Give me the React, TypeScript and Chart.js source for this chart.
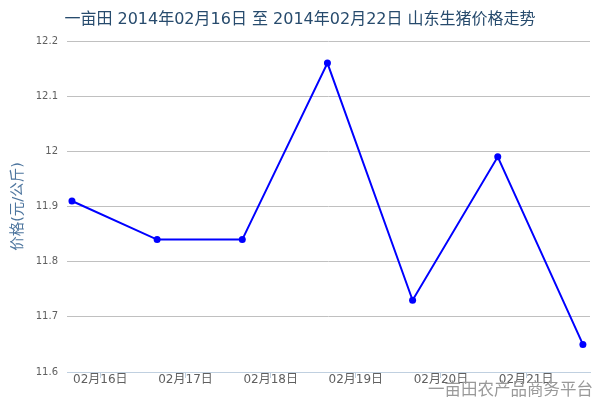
import { useEffect, useRef } from "react";
import { Chart, registerables } from "chart.js";

Chart.register(...registerables);

const categories = ["02月16日", "02月17日", "02月18日", "02月19日", "02月20日", "02月21日", "02月22日"];
const prices = [11.91, 11.84, 11.84, 12.16, 11.73, 11.99, 11.65];
const yTickLabels = ["11.6", "11.7", "11.8", "11.9", "12", "12.1", "12.2"];
const titleText = "一亩田 2014年02月16日 至 2014年02月22日 山东生猪价格走势";
const yTitle = "价格(元/公斤)";
const watermark = "一亩田农产品商务平台";

const HOURS_PER_DAY = 24;
const TZ_OFFSET_H = 8;
const FONT = "'DejaVu Sans', 'Noto Sans CJK SC', sans-serif";

export default function App() {
  const ref = useRef<HTMLCanvasElement | null>(null);

  useEffect(() => {
    document.body.style.margin = "0";
    const canvas = ref.current;
    if (!canvas) return;

    const watermarkPlugin = {
      id: "watermark",
      afterDraw(chart: any) {
        const { ctx } = chart;
        ctx.save();
        ctx.font = `16.5px ${FONT}`;
        ctx.fillStyle = "#999999";
        ctx.textAlign = "right";
        ctx.textBaseline = "alphabetic";
        ctx.fillText(watermark, 593, 395);
        ctx.restore();
      },
    };

    const chart = new Chart(canvas, {
      type: "line",
      data: {
        datasets: [
          {
            label: "价格",
            data: prices.map((v, i) => ({ x: i * HOURS_PER_DAY, y: v })),
            borderColor: "#0000FF",
            backgroundColor: "#0000FF",
            borderWidth: 2,
            pointRadius: 3.5,
            pointBorderWidth: 0,
            pointBackgroundColor: "#0000FF",
            tension: 0,
            fill: false,
          },
        ],
      },
      options: {
        responsive: false,
        animation: false,
        layout: { padding: { left: 10, right: 10, top: 0, bottom: 0 } },
        plugins: {
          legend: { display: false },
          tooltip: { enabled: false },
          title: {
            display: true,
            text: titleText,
            color: "#274b6d",
            font: { family: FONT, size: 16, weight: "normal" },
            padding: { top: 10, bottom: 11.8 },
          },
        },
        scales: {
          x: {
            type: "linear",
            min: -1.4,
            max: 146,
            afterBuildTicks(scale: any) {
              scale.ticks = categories
                .map((_, i) => ({ value: i * HOURS_PER_DAY + TZ_OFFSET_H }))
                .filter((t) => t.value <= scale.max);
            },
            afterFit(scale: any) {
              scale.height = 28;
            },
            grid: {
              drawOnChartArea: false,
              drawTicks: true,
              tickLength: 6,
              color: "#C0D0E0",
            },
            border: { display: true, color: "#C0D0E0", width: 1 },
            ticks: {
              autoSkip: false,
              maxRotation: 0,
              padding: -5,
              color: "#606060",
              font: { family: FONT, size: 12 },
              callback: (v: any) => {
                const idx = Math.round((Number(v) - TZ_OFFSET_H) / HOURS_PER_DAY);
                return categories[idx] ?? "";
              },
            },
          },
          y: {
            min: 11.6,
            max: 12.2,
            afterFit(scale: any) {
              scale.width = 57;
            },
            ticks: {
              stepSize: 0.1,
              padding: 9,
              color: "#606060",
              font: { family: FONT, size: 10 },
              callback: (_v: any, i: number) => yTickLabels[i],
            },
            grid: { color: "#C0C0C0", drawTicks: false },
            border: { display: false },
            title: {
              display: true,
              text: yTitle,
              color: "#4d759e",
              font: { family: FONT, size: 14.5, weight: "normal" },
              padding: { top: 0, bottom: 0 },
            },
          },
        },
      },
      plugins: [watermarkPlugin],
    });

    return () => chart.destroy();
  }, []);

  return <canvas ref={ref} width={600} height={400} style={{ display: "block" }} />;
}
